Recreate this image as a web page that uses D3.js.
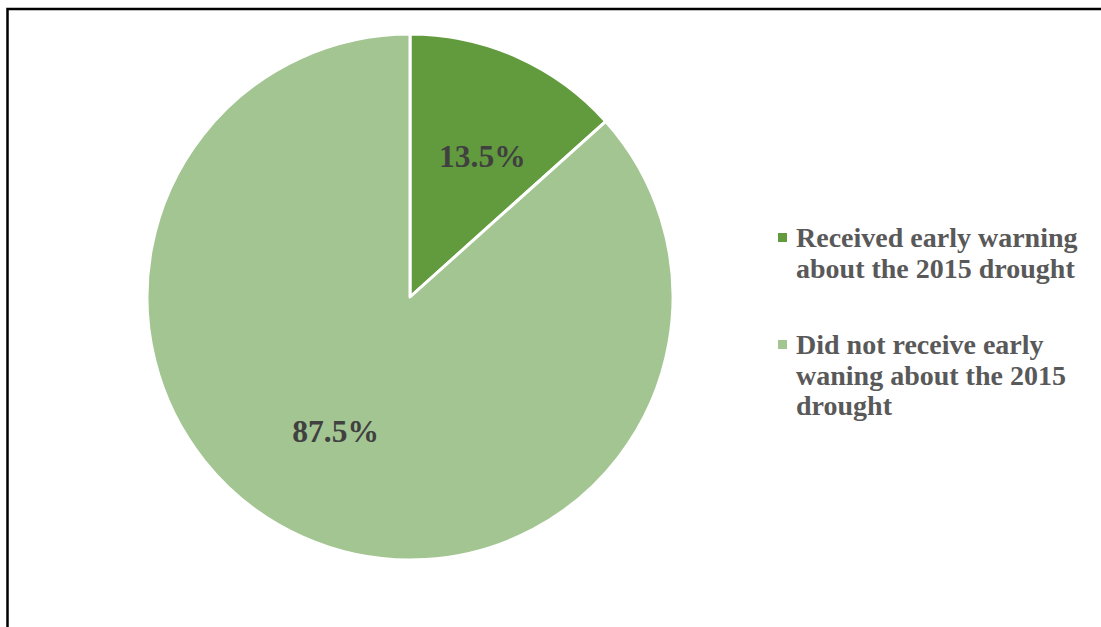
<!DOCTYPE html>
<html>
<head>
<meta charset="utf-8">
<script src="https://cdn.jsdelivr.net/npm/d3@7"></script>
<style>
  html, body { margin: 0; padding: 0; background: #ffffff; }
  svg { display: block; }
</style>
</head>
<body>
<svg id="chart" width="1101" height="627"></svg>
<script>
// Survey responses on early warning for the 2015 drought
const categories = [
  "Received early warning about the 2015 drought",
  "Did not receive early waning about the 2015 drought"
];
const values = [13.5, 87.5];
const valueLabels = ["13.5%", "87.5%"];
const legendLines = [
  ["Received early warning", "about the 2015 drought"],
  ["Did not receive early", "waning about the 2015", "drought"]
];
const colors = ["#629b3e", "#a3c592"];

const svg = d3.select("#chart");
const W = 1101, H = 627;

// outer frame (left and top edges visible, the rest runs off the canvas)
svg.append("rect")
  .attr("x", 7.5).attr("y", 9)
  .attr("width", W + 20).attr("height", H + 20)
  .attr("fill", "none")
  .attr("stroke", "#000")
  .attr("stroke-width", 2.5);

const cx = 410, cy = 297, r = 263;

const pie = d3.pie().sort(null).value(d => d);
const arcs = pie(values);
const arc = d3.arc().innerRadius(0).outerRadius(r);

const g = svg.append("g").attr("transform", `translate(${cx},${cy})`);

g.selectAll("path.slice")
  .data(arcs)
  .join("path")
  .attr("class", "slice")
  .attr("d", arc)
  .attr("fill", (d, i) => colors[i])
  .attr("stroke", "#ffffff")
  .attr("stroke-width", 3)
  .attr("stroke-linejoin", "round");

// value labels placed inside each slice
const labelArc = d3.arc().innerRadius(r * 0.6).outerRadius(r * 0.6);
g.selectAll("text.val")
  .data(arcs)
  .join("text")
  .attr("class", "val")
  .attr("transform", d => {
    const [x, y] = labelArc.centroid(d);
    return `translate(${x + (d.index === 0 ? 8 : -10)},${y + (d.index === 0 ? 4 : -10)})`;
  })
  .attr("text-anchor", "middle")
  .attr("dominant-baseline", "central")
  .attr("font-family", "'Liberation Serif', 'Times New Roman', serif")
  .attr("font-weight", "bold")
  .attr("font-size", 31.5)
  .attr("fill", "#404040")
  .text((d, i) => valueLabels[i]);

// legend
const legend = svg.append("g").attr("transform", "translate(778,0)");
const itemTop = [247, 354];
const lineH = 30.5;
categories.forEach((c, i) => {
  const item = legend.append("g");
  item.append("rect")
    .attr("x", 0).attr("y", itemTop[i] - 14)
    .attr("width", 9).attr("height", 9)
    .attr("fill", colors[i]);
  const t = item.append("text")
    .attr("font-family", "'Liberation Serif', 'Times New Roman', serif")
    .attr("font-weight", "bold")
    .attr("font-size", 28)
    .attr("fill", "#595959");
  legendLines[i].forEach((line, j) => {
    t.append("tspan")
      .attr("x", 18)
      .attr("y", itemTop[i] + j * lineH)
      .text(line);
  });
});
</script>
</body>
</html>
